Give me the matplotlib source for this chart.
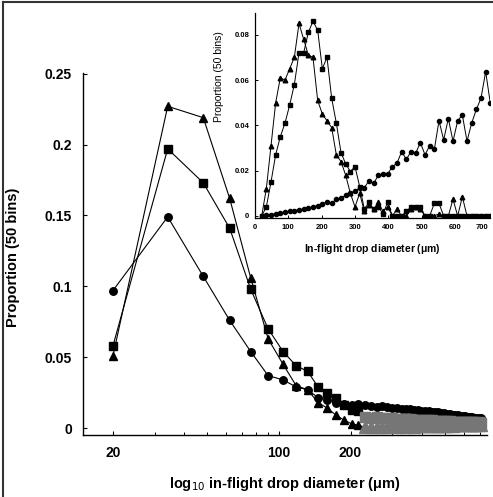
import matplotlib
matplotlib.use("Agg")
import matplotlib.pyplot as plt
from matplotlib.lines import Line2D
from matplotlib.ticker import LogLocator, NullFormatter, FixedLocator, FixedFormatter
import numpy as np

plt.rcParams['font.family'] = ['Liberation Sans', 'DejaVu Sans']

# ---- data: bin centres (um) ----
diam = [20, 34, 48, 62, 76, 90, 104, 118, 132, 146, 160, 174, 188, 202, 216,
        230, 244, 258, 272, 286, 300, 314, 328, 342, 356, 370, 384, 398, 412,
        426, 440, 454, 468, 482, 496, 510, 524, 538, 552, 566, 580, 594, 608,
        622, 636, 650, 664, 678, 692, 706]

# main panel (log axis)
main_circle = [0.097, 0.149, 0.107, 0.076, 0.054, 0.037, 0.034, 0.029, 0.027, 0.0215,
               0.020, 0.018, 0.017, 0.016, 0.017, 0.0160, 0.0158, 0.0151, 0.0153, 0.0146,
               0.0143, 0.0141, 0.0137, 0.0136, 0.0131, 0.0130, 0.0127, 0.0123, 0.0121, 0.0117,
               0.0116, 0.0111, 0.0110, 0.0105, 0.0104, 0.0099, 0.0098, 0.0094, 0.0092, 0.0089,
               0.0088, 0.0084, 0.0083, 0.0079, 0.0078, 0.0075, 0.0074, 0.0071, 0.0070, 0.0068]
main_square = [0.058, 0.197, 0.173, 0.141, 0.098, 0.070, 0.054, 0.044, 0.040, 0.029,
               0.025, 0.021, 0.016, 0.013, 0.012, 0.0078, 0.0074, 0.0077, 0.0071, 0.0068,
               0.0070, 0.0064, 0.0066, 0.0061, 0.0063, 0.0058, 0.0060, 0.0056, 0.0057, 0.0054,
               0.0055, 0.0051, 0.0052, 0.0049, 0.0050, 0.0047, 0.0048, 0.0045, 0.0046, 0.0044,
               0.0045, 0.0042, 0.0043, 0.0041, 0.0042, 0.0040, 0.0041, 0.0039, 0.0040, 0.0038]
main_triangle = [0.051, 0.227, 0.219, 0.162, 0.106, 0.063, 0.045, 0.030, 0.027, 0.018,
                 0.014, 0.009, 0.0056, 0.003, 0.002, 0.0005, 0.0008, 0.0004, 0.0010, 0.0006,
                 0.0012, 0.0007, 0.0011, 0.0009, 0.0013, 0.0010, 0.0014, 0.0012, 0.0015, 0.0013,
                 0.0016, 0.0014, 0.0017, 0.0015, 0.0018, 0.0017, 0.0019, 0.0018, 0.0020, 0.0019,
                 0.0021, 0.0020, 0.0022, 0.0021, 0.0023, 0.0022, 0.0024, 0.0023, 0.0025, 0.0024]

# inset panel (linear axis)
inset_triangle = [0.0, 0.012, 0.031, 0.050, 0.061, 0.060, 0.065, 0.070, 0.085, 0.078,
                  0.071, 0.070, 0.051, 0.045, 0.042, 0.039, 0.027, 0.024, 0.018, 0.010,
                  0.004, 0.010, 0.002, 0.005, 0.003, 0.006, 0.002, 0.004, 0.0, 0.003,
                  0.0, 0.0, 0.003, 0.004, 0.003, 0.0, 0.0, 0.0, 0.001, 0.0,
                  0.0, 0.0074, 0.0, 0.0085, 0.0, 0.0, 0.0, 0.0, 0.0, 0.0]
inset_square = [0.0, 0.004, 0.015, 0.027, 0.035, 0.041, 0.049, 0.058, 0.072, 0.072,
                0.081, 0.086, 0.082, 0.065, 0.070, 0.052, 0.041, 0.028, 0.023, 0.0196,
                0.0218, 0.013, 0.003, 0.006, 0.003, 0.004, 0.001, 0.006, 0.0, 0.0,
                0.0, 0.002, 0.004, 0.004, 0.004, 0.0, 0.0, 0.0056, 0.0056, 0.0,
                0.0, 0.0, 0.0, 0.0, 0.0, 0.0, 0.0, 0.0, 0.0, 0.0]
inset_circle = [0.0, 0.0003, 0.0006, 0.0009, 0.0012, 0.0016, 0.0020, 0.0024, 0.0028, 0.0031,
                0.0035, 0.0040, 0.0046, 0.0052, 0.0063, 0.0056, 0.0074, 0.0078, 0.0092, 0.0103,
                0.0110, 0.0122, 0.0125, 0.0155, 0.0144, 0.0180, 0.0184, 0.0185, 0.0218, 0.0233,
                0.0284, 0.0250, 0.0284, 0.0277, 0.0324, 0.0270, 0.0310, 0.0294, 0.0420, 0.0336,
                0.0430, 0.0330, 0.0420, 0.0446, 0.0330, 0.0410, 0.0470, 0.0520, 0.0637, 0.0497]

main_yticks = [0, 0.05, 0.1, 0.15, 0.2, 0.25]
main_yticklabels = ["0", "0.05", "0.1", "0.15", "0.2", "0.25"]
main_xticks = [20, 100, 200]
main_xticklabels = ["20", "100", "200"]
inset_yticks = [0, 0.02, 0.04, 0.06, 0.08]
inset_yticklabels = ["0", "0.02", "0.04", "0.06", "0.08"]
inset_xticks = [0, 100, 200, 300, 400, 500, 600, 700]

W, H = 493, 497
fig = plt.figure(figsize=(W / 100, H / 100), dpi=100)

def fx(px):
    return px / W

def fy(py):
    return 1 - py / H

# ---------------- main axes ----------------
ax = fig.add_axes([fx(83), fy(435), fx(487) - fx(83), fy(73) - fy(435)])
ax.set_xscale('log')
ax.set_xlim(14.96, 751)
ax.set_ylim(-0.0049, 0.2505)

cut = 15
grey = '#767676'
for vals, mk, ms in [(main_circle, 'o', 5.4), (main_square, 's', 5.4), (main_triangle, '^', 6.0)]:
    ax.plot(diam, vals, '-', color='black', lw=0.8, zorder=2)
    if mk == 'o':
        ax.plot(diam, vals, ls='none', marker=mk, ms=ms, mfc='black', mec='black', zorder=3)
    else:
        ax.plot(diam[:cut], vals[:cut], ls='none', marker=mk, ms=ms, mfc='black', mec='black', zorder=3)
        ax.plot(diam[cut:], vals[cut:], ls='none', marker=mk, ms=ms + 2.0, mfc=grey, mec=grey, zorder=3)

for s in ['top', 'right']:
    ax.spines[s].set_visible(False)
for s in ['left', 'bottom']:
    ax.spines[s].set_linewidth(1.0)
ax.xaxis.set_major_locator(FixedLocator(main_xticks))
ax.xaxis.set_major_formatter(FixedFormatter(main_xticklabels))
ax.xaxis.set_minor_locator(LogLocator(base=10, subs=np.arange(2, 10)))
ax.xaxis.set_minor_formatter(NullFormatter())
ax.set_yticks(main_yticks)
ax.set_yticklabels(main_yticklabels)
ax.tick_params(axis='both', which='major', direction='in', length=3, width=0.8,
               labelsize=10, pad=8)
ax.tick_params(axis='x', which='minor', direction='in', length=2, width=0.7)
for lab in ax.get_xticklabels() + ax.get_yticklabels():
    lab.set_fontweight('bold')
ax.set_xlabel(r'log$_{10}$ in-flight drop diameter ($\mathregular{\mu}$m)', fontsize=10.5,
              fontweight='bold')
ax.set_ylabel('Proportion (50 bins)', fontsize=10.5, fontweight='bold')
ax.xaxis.set_label_coords(0.5, -0.11)
ax.yaxis.set_label_coords(-0.155, 0.49)

# ---------------- inset axes ----------------
ins = fig.add_axes([fx(255), fy(218), fx(490) - fx(255), fy(13) - fy(218)])
ins.set_xlim(0, 705)
ins.set_ylim(-0.0009, 0.0896)
for vals, mk, ms in [(inset_circle, 'o', 3.0), (inset_square, 's', 3.3), (inset_triangle, '^', 3.3)]:
    ins.plot(diam, vals, '-', color='black', lw=0.7, marker=mk, ms=ms, mfc='black', mec='black')
for s in ['top', 'right']:
    ins.spines[s].set_visible(False)
for s in ['left', 'bottom']:
    ins.spines[s].set_linewidth(0.9)
ins.set_yticks(inset_yticks)
ins.set_yticklabels(inset_yticklabels)
ins.set_xticks(inset_xticks)
ins.tick_params(axis='both', direction='in', length=2.5, width=0.7, labelsize=5.5, pad=4)
for lab in ins.get_xticklabels() + ins.get_yticklabels():
    lab.set_fontweight('bold')
ins.get_xticklabels()[-1].set_horizontalalignment('right')
ins.set_xlabel(r'In-flight drop diameter ($\mathregular{\mu}$m)', fontsize=7.5, fontweight='bold')
ins.set_ylabel('Proportion (50 bins)', fontsize=7.5)
ins.xaxis.set_label_coords(0.5, -0.115)
ins.yaxis.set_label_coords(-0.13, 0.69)

# figure border (scan frame)
fig.add_artist(Line2D([fx(3), fx(3)], [0, fy(2)], color='#333333', lw=1.5))
fig.add_artist(Line2D([fx(3), 1], [fy(2), fy(2)], color='#333333', lw=1.5))

fig.savefig('out.png', dpi=100)
